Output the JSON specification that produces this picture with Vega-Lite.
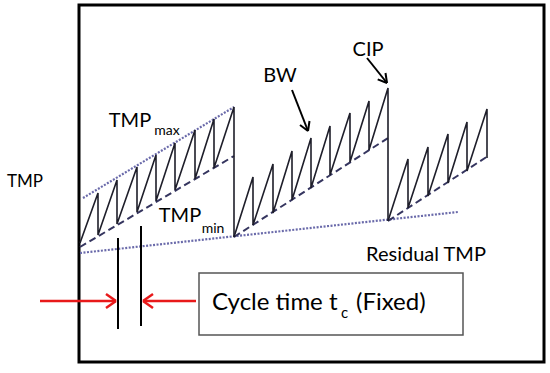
{
  "$schema": "https://vega.github.io/schema/vega-lite/v6.json",
  "width": 550,
  "height": 373,
  "autosize": {"type": "fit", "contains": "padding"},
  "padding": 0,
  "background": "white",
  "config": {"view": {"stroke": null}, "font": "Lato"},
  "datasets": {
    "saw": [
      {"seg": 1, "o": 1, "t": 80, "p": 243}, {"seg": 1, "o": 2, "t": 98, "p": 193}, {"seg": 1, "o": 3, "t": 98, "p": 235},
      {"seg": 1, "o": 4, "t": 117, "p": 180}, {"seg": 1, "o": 5, "t": 117, "p": 224}, {"seg": 1, "o": 6, "t": 137, "p": 167},
      {"seg": 1, "o": 7, "t": 137, "p": 212}, {"seg": 1, "o": 8, "t": 156, "p": 155}, {"seg": 1, "o": 9, "t": 156, "p": 201},
      {"seg": 1, "o": 10, "t": 175, "p": 143}, {"seg": 1, "o": 11, "t": 175, "p": 190}, {"seg": 1, "o": 12, "t": 195, "p": 130},
      {"seg": 1, "o": 13, "t": 195, "p": 179}, {"seg": 1, "o": 14, "t": 214, "p": 119}, {"seg": 1, "o": 15, "t": 214, "p": 168},
      {"seg": 1, "o": 16, "t": 234, "p": 107}, {"seg": 1, "o": 17, "t": 234, "p": 237},
      {"seg": 2, "o": 1, "t": 234, "p": 237}, {"seg": 2, "o": 2, "t": 253, "p": 177}, {"seg": 2, "o": 3, "t": 253, "p": 225},
      {"seg": 2, "o": 4, "t": 273, "p": 164}, {"seg": 2, "o": 5, "t": 273, "p": 213}, {"seg": 2, "o": 6, "t": 292, "p": 151},
      {"seg": 2, "o": 7, "t": 292, "p": 200}, {"seg": 2, "o": 8, "t": 311, "p": 138}, {"seg": 2, "o": 9, "t": 311, "p": 188},
      {"seg": 2, "o": 10, "t": 330, "p": 126}, {"seg": 2, "o": 11, "t": 330, "p": 175}, {"seg": 2, "o": 12, "t": 350, "p": 113},
      {"seg": 2, "o": 13, "t": 350, "p": 162}, {"seg": 2, "o": 14, "t": 369, "p": 101}, {"seg": 2, "o": 15, "t": 369, "p": 150},
      {"seg": 2, "o": 16, "t": 388, "p": 88}, {"seg": 2, "o": 17, "t": 388, "p": 221},
      {"seg": 3, "o": 1, "t": 388, "p": 221}, {"seg": 3, "o": 2, "t": 408, "p": 159}, {"seg": 3, "o": 3, "t": 408, "p": 208},
      {"seg": 3, "o": 4, "t": 428, "p": 147}, {"seg": 3, "o": 5, "t": 428, "p": 196}, {"seg": 3, "o": 6, "t": 448, "p": 134},
      {"seg": 3, "o": 7, "t": 448, "p": 183}, {"seg": 3, "o": 8, "t": 467, "p": 122}, {"seg": 3, "o": 9, "t": 467, "p": 171},
      {"seg": 3, "o": 10, "t": 487, "p": 109}, {"seg": 3, "o": 11, "t": 487, "p": 158}
    ],
    "guides": [
      {"kind": "max", "t": 83, "p": 198, "t2": 234, "p2": 107},
      {"kind": "min", "t": 80, "p": 247, "t2": 234, "p2": 156},
      {"kind": "min", "t": 234, "p": 237, "t2": 388, "p2": 138},
      {"kind": "min", "t": 388, "p": 221, "t2": 488, "p2": 156},
      {"kind": "residual", "t": 80, "p": 253, "t2": 458, "p2": 212}
    ],
    "arrows": [
      {"c": "black", "t": 292, "p": 90, "t2": 308, "p2": 131},
      {"c": "black", "t": 308, "p": 131, "t2": 309.5, "p2": 121},
      {"c": "black", "t": 308, "p": 131, "t2": 300, "p2": 125},
      {"c": "black", "t": 367, "p": 58, "t2": 387, "p2": 83},
      {"c": "black", "t": 387, "p": 83, "t2": 385.5, "p2": 73},
      {"c": "black", "t": 387, "p": 83, "t2": 377.7, "p2": 79.4},
      {"c": "black", "t": 118, "p": 238, "t2": 118, "p2": 329},
      {"c": "black", "t": 141, "p": 226, "t2": 141, "p2": 326},
      {"c": "red", "t": 40, "p": 301, "t2": 116, "p2": 301},
      {"c": "red", "t": 116, "p": 301, "t2": 106, "p2": 294},
      {"c": "red", "t": 116, "p": 301, "t2": 106, "p2": 308},
      {"c": "red", "t": 143, "p": 301, "t2": 196, "p2": 301},
      {"c": "red", "t": 143, "p": 301, "t2": 153, "p2": 294},
      {"c": "red", "t": 143, "p": 301, "t2": 153, "p2": 308}
    ],
    "boxes": [
      {"kind": "frame", "t": 79, "p": 5, "t2": 544, "p2": 362},
      {"kind": "label", "t": 199, "p": 273, "t2": 463, "p2": 335}
    ],
    "bigtext": [
      {"t": 130, "p": 121, "label": "TMP"},
      {"t": 180, "p": 216, "label": "TMP"},
      {"t": 280, "p": 76, "label": "BW"},
      {"t": 368, "p": 50, "label": "CIP"},
      {"t": 426, "p": 255, "label": "Residual TMP"}
    ],
    "subtext": [
      {"t": 167, "p": 131, "label": "max"},
      {"t": 213, "p": 229, "label": "min"}
    ]
  },
  "encoding": {
    "x": {"field": "t", "type": "quantitative", "scale": {"domain": [0, 550], "nice": false, "zero": false}, "axis": null},
    "y": {"field": "p", "type": "quantitative", "scale": {"domain": [0, 373], "nice": false, "zero": false, "reverse": true}, "axis": null}
  },
  "layer": [
    {
      "data": {"name": "boxes"},
      "transform": [{"filter": "datum.kind === 'frame'"}],
      "mark": {"type": "rect", "fill": null, "stroke": "#000000", "strokeWidth": 3},
      "encoding": {"x2": {"field": "t2"}, "y2": {"field": "p2"}}
    },
    {
      "data": {"name": "guides"},
      "transform": [{"filter": "datum.kind === 'residual' || datum.kind === 'max'"}],
      "mark": {"type": "rule", "stroke": "#6a6aaa", "strokeWidth": 2.2, "strokeDash": [2, 1.5]},
      "encoding": {"x2": {"field": "t2"}, "y2": {"field": "p2"}}
    },
    {
      "data": {"name": "guides"},
      "transform": [{"filter": "datum.kind === 'min'"}],
      "mark": {"type": "rule", "stroke": "#35355f", "strokeWidth": 2, "strokeDash": [7, 4]},
      "encoding": {"x2": {"field": "t2"}, "y2": {"field": "p2"}}
    },
    {
      "data": {"name": "saw"},
      "mark": {"type": "line", "stroke": "#1e1e2a", "strokeWidth": 1.6, "interpolate": "linear"},
      "encoding": {"detail": {"field": "seg"}, "order": {"field": "o", "type": "quantitative"}}
    },
    {
      "data": {"name": "arrows"},
      "transform": [{"filter": "datum.c === 'black'"}],
      "mark": {"type": "rule", "stroke": "#000000", "strokeWidth": 2},
      "encoding": {"x2": {"field": "t2"}, "y2": {"field": "p2"}}
    },
    {
      "data": {"name": "arrows"},
      "transform": [{"filter": "datum.c === 'red'"}],
      "mark": {"type": "rule", "stroke": "#e8191a", "strokeWidth": 2.5},
      "encoding": {"x2": {"field": "t2"}, "y2": {"field": "p2"}}
    },
    {
      "data": {"name": "boxes"},
      "transform": [{"filter": "datum.kind === 'label'"}],
      "mark": {"type": "rect", "fill": "white", "stroke": "#555555", "strokeWidth": 1.5},
      "encoding": {"x2": {"field": "t2"}, "y2": {"field": "p2"}}
    },
    {
      "data": {"values": [{"t": 25, "p": 182, "label": "TMP"}]},
      "mark": {"type": "text", "font": "Lato", "fontSize": 17, "align": "center", "baseline": "middle", "color": "#000"},
      "encoding": {"text": {"field": "label"}}
    },
    {
      "data": {"name": "bigtext"},
      "mark": {"type": "text", "font": "Lato", "fontSize": 20, "align": "center", "baseline": "middle", "color": "#000"},
      "encoding": {"text": {"field": "label"}}
    },
    {
      "data": {"name": "subtext"},
      "mark": {"type": "text", "font": "Lato", "fontSize": 14, "align": "center", "baseline": "middle", "color": "#000"},
      "encoding": {"text": {"field": "label"}}
    },
    {
      "data": {"values": [{"t": 212, "p": 303, "label": "Cycle time t"}, {"t": 356, "p": 303, "label": "(Fixed)"}]},
      "mark": {"type": "text", "font": "Lato", "fontSize": 24, "align": "left", "baseline": "middle", "color": "#000"},
      "encoding": {"text": {"field": "label"}}
    },
    {
      "data": {"values": [{"t": 341, "p": 313, "label": "c"}]},
      "mark": {"type": "text", "font": "Lato", "fontSize": 15, "align": "left", "baseline": "middle", "color": "#000"},
      "encoding": {"text": {"field": "label"}}
    }
  ]
}
